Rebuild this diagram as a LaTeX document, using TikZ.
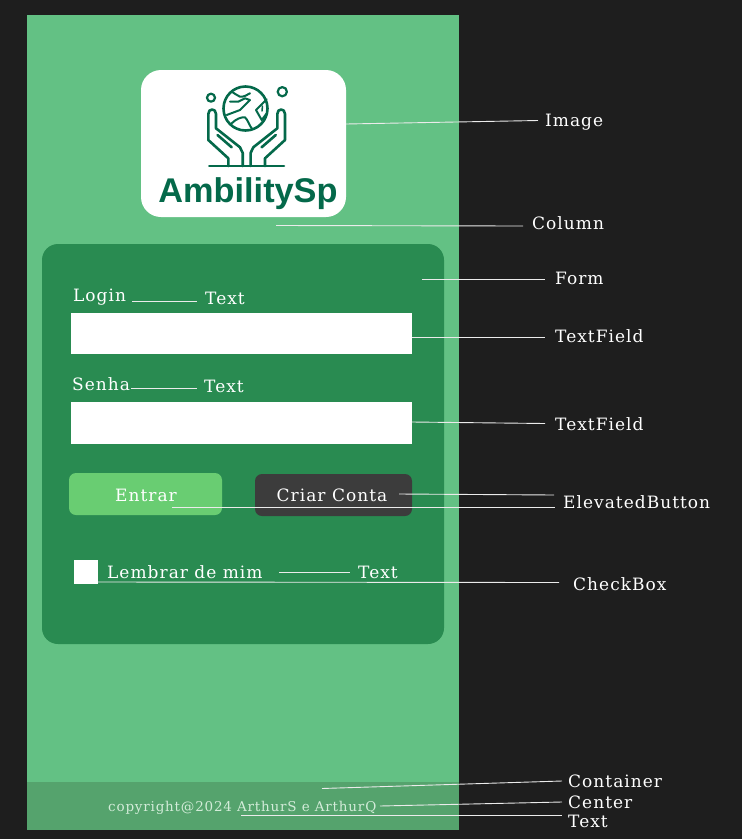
\documentclass[tikz,border=0pt]{standalone}
\usepackage{fontspec}
\setmainfont{DejaVu Serif}[LetterSpace=6]
\newfontfamily\logofont{Liberation Sans}
\definecolor{bgdark}{HTML}{1E1E1E}
\definecolor{colgreen}{HTML}{63C184}
\definecolor{formgreen}{HTML}{298B51}
\definecolor{btngreen}{HTML}{69CD72}
\definecolor{btndark}{HTML}{3C3C3C}
\definecolor{footgreen}{HTML}{55A36D}
\definecolor{logogreen}{HTML}{04694A}
\definecolor{foottext}{HTML}{D3ECD9}
\tikzset{
 lbl/.style={text=white,font=\fontsize{17}{19}\selectfont,inner sep=0pt,anchor=base west},
 ann/.style={draw=white!92!black,line width=0.9pt},
 field/.style={fill=white,draw=none,inner sep=0pt},
 logoline/.style={draw=logogreen,line width=2.6pt,line cap=round,line join=round,fill=none},
 globeline/.style={logoline,line width=2pt},
}
\begin{document}
\begin{tikzpicture}[x=1pt,y=-1pt]
\useasboundingbox (0,0) rectangle (742,839);
\fill[bgdark] (0,0) rectangle (742,839);
\fill[colgreen] (27,15) rectangle (459,782);
\fill[footgreen] (27,782) rectangle (459,830);
\fill[white,rounded corners=20pt] (141,70) rectangle (346,217);
\fill[formgreen,rounded corners=16pt] (42,244) rectangle (444,644);
\node[field,minimum width=341.5pt,minimum height=41.5pt] (f1) at (241.25,333.25) {};
\node[field,minimum width=341.5pt,minimum height=42pt] (f2) at (241.25,423) {};
\fill[btngreen,rounded corners=7pt] (69,473) rectangle (222,515);
\fill[btndark,rounded corners=7pt] (255,474) rectangle (412,516);
\node[field,minimum size=24pt] (cb) at (86,571.5) {};
% logo
\draw[logoline] (245.5,108.5) circle (22pt);
\draw[globeline] (231.7,91.7) .. controls (235,93) and (237,96) .. (240,96.7) .. controls (244,97) and (247,95) .. (250,93.3);
\draw[globeline] (230,101.7) -- (238.3,101.7) -- (245,98.3) -- (250,100) -- (243.3,106.7) -- (240,110) -- (226.7,115);
\draw[globeline] (231.7,123.3) .. controls (236,119) and (241,117) .. (245,117.3) .. controls (248,120) and (249,125) .. (251.7,128.3);
\draw[globeline] (266.7,99.3) -- (256,110) -- (261.7,120) -- (267,113);
\draw[globeline,line width=1.5pt] (262.5,106) -- (262,111);
\draw[logoline,line width=2.2pt] (211,97.7) circle (4pt);
\draw[logoline,line width=2.2pt] (282.3,91.7) circle (4.6pt);
\draw[logoline] (209.3,166) -- (284,166);
\draw[logoline] (228.3,166) -- (228.3,158.3) -- (208.3,140) -- (208.3,114) .. controls (208.3,108) and (216,108) .. (216,114) -- (216,128.3) -- (240,147.3) -- (242.7,153) -- (242.7,166);
\draw[logoline] (217.5,135) -- (231.7,147.3);
\draw[logoline] (265,166) -- (265,158.3) -- (285,140) -- (285,114) .. controls (285,108) and (277.3,108) .. (277.3,114) -- (277.3,128.3) -- (253.3,147.3) -- (250.6,153) -- (250.6,166);
\draw[logoline] (275.8,135) -- (261.6,147.3);
\node[inner sep=0pt,text=logogreen,font=\logofont\bfseries\fontsize{34.3}{38}\selectfont,anchor=base] (logotext) at (248,202) {AmbilitySp};
% inner labels
\node[lbl] (login) at (73,301) {Login};
\node[lbl] (senha) at (72,390) {Senha};
\node[lbl,anchor=base] (entrar) at (146,501) {Entrar};
\node[lbl,anchor=base] (criar) at (332,501) {Criar Conta};
\node[lbl] (lembrar) at (107,578) {Lembrar de mim};
\node[lbl,text=foottext,font=\fontsize{13.5}{15}\selectfont] (copy) at (108,811) {copyright@2024 ArthurS e ArthurQ};
% outer labels
\node[lbl] (image) at (545,126) {Image};
\node[lbl] (column) at (532,229) {Column};
\node[lbl] (form) at (555,284) {Form};
\node[lbl] (tf1) at (555,342) {TextField};
\node[lbl] (tf2) at (555,430) {TextField};
\node[lbl] (eb) at (563,508) {ElevatedButton};
\node[lbl] (chk) at (573,590) {CheckBox};
\node[lbl] (cont) at (568,787) {Container};
\node[lbl] (cen) at (568,808) {Center};
\node[lbl] (txt) at (568,827) {Text};
\node[lbl] (t1) at (205,304) {Text};
\node[lbl] (t2) at (204,392) {Text};
\node[lbl] (t3) at (358,578) {Text};
% connectors
\draw[ann] (346,124) -- (538,120.5);
\draw[ann] (276,225.5) -- (523,226);
\draw[ann] (422,279.5) -- (545,279.5);
\draw[ann] (412,337.5) -- (545,337.5);
\draw[ann] (412,422) -- (545,423.5);
\draw[ann] (399,494) -- (554,495);
\draw[ann] (172,507.5) -- (555,507.5);
\draw[ann] (98,582) -- (559,582.5);
\draw[ann] (279,572) -- (350,572);
\draw[ann] (132,301) -- (197,301);
\draw[ann] (131,388) -- (197,388);
\draw[ann] (322,788.5) -- (562,781);
\draw[ann] (380,806) -- (562,802);
\draw[ann] (241,815.5) -- (562,815.5);
\end{tikzpicture}
\end{document}
